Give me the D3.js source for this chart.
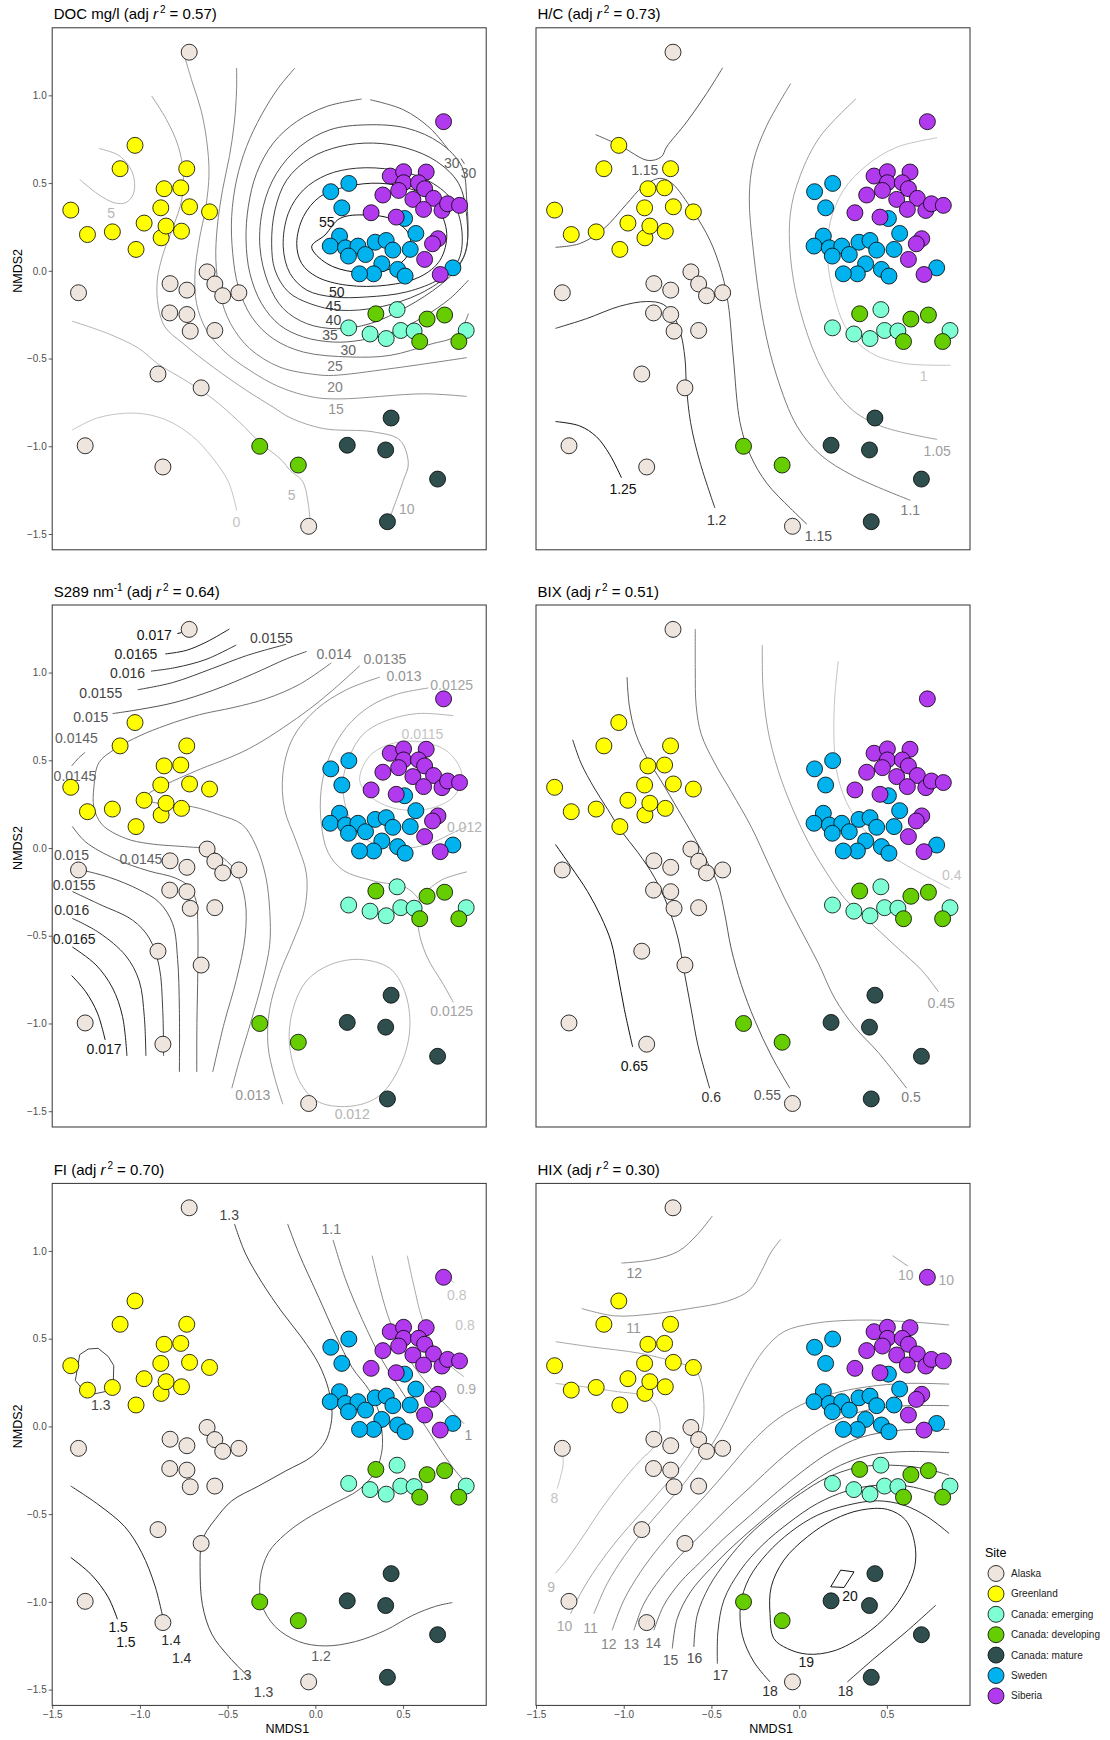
<!DOCTYPE html>
<html>
<head>
<meta charset="utf-8">
<script src="https://cdn.jsdelivr.net/npm/d3@7"></script>
<style>
body { margin: 0; background: #fff; }
text { font-family: "Liberation Sans", Arial, Helvetica, sans-serif; }
</style>
</head>
<body>
<script>
// site names and fills (legend order = draw order)
var sites = ["Alaska", "Greenland", "Canada: emerging", "Canada: developing", "Canada: mature", "Sweden", "Siberia"];
var siteFill = ["#EEE5DE", "#FFFF00", "#7FFFD4", "#66CD00", "#2F4F4F", "#00B2EE", "#B23AEE"];

// NMDS scores [NMDS1, NMDS2] per site
var alaska = [[-0.719,1.246],[-1.350,-0.125],[-1.312,-0.997],[-0.869,-1.118],[-0.897,-0.588],[-0.651,-0.667],[-0.828,-0.073],[-0.732,-0.110],[-0.617,-0.006],[-0.573,-0.075],[-0.528,-0.142],[-0.436,-0.125],[-0.830,-0.240],[-0.732,-0.249],[-0.713,-0.344],[-0.573,-0.340],[-0.038,-1.456]];
var greenland = [[-1.394,0.346],[-1.299,0.207],[-1.157,0.222],[-1.113,0.582],[-1.028,0.715],[-1.022,0.122],[-0.976,0.272],[-0.881,0.359],[-0.862,0.468],[-0.879,0.188],[-0.851,0.255],[-0.767,0.473],[-0.763,0.226],[-0.717,0.365],[-0.733,0.582],[-0.603,0.336]];
var emerging = [[0.190,-0.325],[0.312,-0.360],[0.404,-0.386],[0.466,-0.221],[0.487,-0.340],[0.563,-0.343],[0.860,-0.340]];
var developing = [[0.345,-0.245],[0.637,-0.275],[0.737,-0.252],[0.595,-0.403],[0.818,-0.403],[-0.317,-1.000],[-0.097,-1.107]];
var mature = [[0.432,-0.839],[0.182,-0.994],[0.401,-1.021],[0.697,-1.187],[0.411,-1.430]];
var sweden = [[0.088,0.451],[0.191,0.498],[0.151,0.359],[0.509,0.298],[0.573,0.213],[0.138,0.198],[0.085,0.141],[0.172,0.131],[0.243,0.141],[0.189,0.084],[0.286,0.093],[0.341,0.163],[0.404,0.173],[0.442,0.118],[0.541,0.122],[0.379,0.040],[0.332,-0.017],[0.252,-0.017],[0.469,0.008],[0.512,-0.030],[0.784,0.017]];
var siberia = [[0.731,0.850],[0.427,0.540],[0.503,0.565],[0.632,0.563],[0.503,0.502],[0.588,0.502],[0.475,0.458],[0.623,0.468],[0.385,0.432],[0.556,0.407],[0.674,0.413],[0.617,0.350],[0.722,0.344],[0.754,0.382],[0.822,0.373],[0.318,0.331],[0.461,0.306],[0.699,0.183],[0.668,0.154],[0.623,0.065],[0.712,-0.021]];
var sitePoints = [alaska, greenland, emerging, developing, mature, sweden, siberia];

// panel titles
var titleMain = ["DOC mg/l", "H/C", "S289 nm", "BIX", "FI", "HIX"];
var titleSup = ["", "", "-1", "", "", ""];
var adjR2 = ["0.57", "0.73", "0.64", "0.51", "0.70", "0.30"];

// axis ticks
var xTicks = [-1.5, -1.0, -0.5, 0.0, 0.5];
var yTicks = [-1.5, -1.0, -0.5, 0.0, 0.5, 1.0];

// fitted surfaces: [level, shape (0 open, 1 closed smooth, 2 closed polygon), points]
var docLines = [
  [0,0,[[-1.387,-0.908],[-1.238,-0.837],[-1.029,-0.811],[-0.857,-0.847],[-0.705,-0.939],[-0.590,-1.061],[-0.495,-1.204],[-0.448,-1.367]]],
  [5,0,[[-1.234,0.697],[-1.124,0.660],[-1.057,0.589],[-1.032,0.517],[-1.038,0.436],[-1.080,0.389],[-1.143,0.387],[-1.238,0.436],[-1.343,0.521]]],
  [5,0,[[-1.387,-0.287],[-1.181,-0.358],[-1.010,-0.440],[-0.895,-0.532],[-0.743,-0.623],[-0.590,-0.725],[-0.438,-0.857],[-0.314,-0.980],[-0.190,-1.081],[-0.144,-1.137],[-0.080,-1.190],[-0.059,-1.232],[-0.040,-1.330],[-0.030,-1.420]]],
  [10,0,[[-0.933,0.996],[-0.848,0.861],[-0.781,0.709],[-0.753,0.556],[-0.762,0.404],[-0.810,0.251],[-0.867,0.099],[-0.901,-0.053],[-0.895,-0.206],[-0.857,-0.320],[-0.753,-0.415],[-0.582,-0.549],[-0.392,-0.682],[-0.240,-0.777],[-0.144,-0.837],[0.046,-0.899],[0.331,-0.918],[0.483,-0.966],[0.530,-1.099],[0.502,-1.194],[0.426,-1.403]]],
  [15,0,[[-0.743,1.213],[-0.700,1.070],[-0.652,0.918],[-0.620,0.747],[-0.606,0.556],[-0.624,0.366],[-0.662,0.175],[-0.686,-0.015],[-0.677,-0.187],[-0.620,-0.339],[-0.515,-0.463],[-0.373,-0.568],[-0.202,-0.663],[-0.011,-0.720],[0.141,-0.730],[0.616,-0.701],[0.863,-0.716]]],
  [20,0,[[-0.449,1.156],[-0.449,1.032],[-0.462,0.842],[-0.490,0.651],[-0.529,0.461],[-0.559,0.251],[-0.567,0.061],[-0.544,-0.130],[-0.483,-0.301],[-0.373,-0.444],[-0.202,-0.549],[0.008,-0.592],[0.103,-0.596],[0.426,-0.558],[0.863,-0.495]]],
  [25,0,[[-0.116,1.156],[-0.211,1.042],[-0.306,0.890],[-0.392,0.709],[-0.449,0.518],[-0.477,0.309],[-0.471,0.099],[-0.439,-0.091],[-0.363,-0.263],[-0.240,-0.387],[-0.068,-0.463],[0.198,-0.491],[0.426,-0.482],[0.654,-0.419],[0.806,-0.368],[0.873,-0.244]]],
  [30,0,[[0.873,-0.053],[0.768,-0.158],[0.616,-0.263],[0.445,-0.349],[0.255,-0.396],[0.103,-0.406],[-0.068,-0.377],[-0.202,-0.310],[-0.306,-0.187],[-0.373,-0.015],[-0.395,0.175],[-0.382,0.366],[-0.335,0.556],[-0.240,0.728],[-0.106,0.851],[0.065,0.937],[0.264,0.979]]],
  [30,0,[[0.312,0.975],[0.502,0.918],[0.654,0.813],[0.759,0.690]]],
  [30,0,[[0.830,0.640],[0.850,0.610]]],
  [35,1,[[-0.316,0.137],[-0.297,0.366],[-0.221,0.556],[-0.087,0.709],[0.084,0.804],[0.293,0.832],[0.521,0.813],[0.711,0.728],[0.835,0.594],[0.863,0.404],[0.863,0.137],[0.816,0.023],[0.711,-0.082],[0.521,-0.206],[0.312,-0.301],[0.122,-0.330],[-0.049,-0.301],[-0.183,-0.215],[-0.268,-0.072]]],
  [40,1,[[-0.249,0.156],[-0.230,0.347],[-0.163,0.518],[-0.030,0.642],[0.141,0.709],[0.331,0.728],[0.521,0.699],[0.692,0.623],[0.816,0.499],[0.863,0.309],[0.854,0.099],[0.768,-0.015],[0.597,-0.130],[0.369,-0.206],[0.141,-0.225],[-0.030,-0.187],[-0.154,-0.120],[-0.230,0.004]]],
  [45,1,[[-0.183,0.137],[-0.154,0.328],[-0.068,0.461],[0.065,0.547],[0.236,0.585],[0.445,0.575],[0.635,0.518],[0.778,0.404],[0.835,0.232],[0.816,0.061],[0.711,-0.044],[0.521,-0.120],[0.293,-0.149],[0.103,-0.149],[-0.049,-0.110],[-0.144,-0.015]]],
  [50,1,[[-0.106,0.156],[-0.068,0.309],[0.027,0.423],[0.179,0.480],[0.369,0.499],[0.559,0.461],[0.692,0.366],[0.749,0.213],[0.711,0.061],[0.597,-0.034],[0.407,-0.082],[0.179,-0.082],[0.008,-0.034],[-0.078,0.042]]],
  [55,1,[[-0.021,0.137],[0.055,0.204],[0.141,0.299],[0.293,0.318],[0.445,0.290],[0.540,0.194],[0.521,0.080],[0.407,0.004],[0.217,-0.006],[0.065,0.042]]]
];
var docLabels = [[-0.450,-1.430,0],[-1.164,0.330,5],[-0.135,-1.280,5],[0.521,-1.359,10],[0.118,-0.787,15],[0.112,-0.663,20],[0.112,-0.545,25],[0.188,-0.453,30],[0.084,-0.368,35],[0.103,-0.282,40],[0.103,-0.200,45],[0.122,-0.118,50],[0.065,0.280,55],[0.778,0.617,30],[0.873,0.556,30]];

var hcLines = [
  [1.25,0,[[-1.389,-0.859],[-1.251,-0.884],[-1.156,-0.945],[-1.080,-1.047],[-1.013,-1.179]]],
  [1.2,0,[[-1.389,-0.328],[-1.213,-0.273],[-1.023,-0.202],[-0.870,-0.175],[-0.775,-0.191],[-0.718,-0.253],[-0.676,-0.354],[-0.651,-0.497],[-0.642,-0.660],[-0.619,-0.864],[-0.566,-1.088],[-0.480,-1.352]]],
  [1.15,0,[[-1.160,0.776],[-1.023,0.715],[-0.861,0.629],[-0.785,0.650],[-0.756,0.705],[-0.642,0.847],[-0.528,1.010],[-0.436,1.157]]],
  [1.15,0,[[-1.389,0.134],[-1.251,0.155],[-1.118,0.236],[-0.985,0.379],[-0.890,0.481],[-0.794,0.527],[-0.728,0.501],[-0.604,0.338],[-0.509,0.175],[-0.442,-0.008],[-0.404,-0.191],[-0.375,-0.497],[-0.337,-0.864],[-0.280,-1.047],[-0.185,-1.210],[-0.051,-1.352],[0.044,-1.444]]],
  [1.1,0,[[-0.048,1.067],[-0.185,0.827],[-0.261,0.623],[-0.284,0.420],[-0.261,0.114],[-0.204,-0.293],[-0.128,-0.599],[-0.013,-0.884],[0.120,-1.047],[0.310,-1.169],[0.634,-1.308]]],
  [1.05,0,[[0.324,0.980],[0.120,0.766],[0.006,0.542],[-0.051,0.318],[-0.042,0.012],[0.025,-0.293],[0.139,-0.578],[0.291,-0.782],[0.463,-0.884],[0.787,-0.961]]],
  [1,0,[[0.787,0.758],[0.558,0.705],[0.387,0.603],[0.253,0.460],[0.177,0.277],[0.162,0.073],[0.196,-0.130],[0.272,-0.334],[0.406,-0.466],[0.596,-0.527],[0.863,-0.538]]]
];
var hcLabels = [[-1.004,-1.246,1.25],[-0.470,-1.418,1.2],[-0.880,0.576,1.15],[0.110,-1.509,1.15],[0.634,-1.363,1.1],[0.787,-1.026,1.05],[0.710,-0.599,1]];

var s289Lines = [
  [0.017,0,[[-0.787,1.222],[-0.762,1.228]]],
  [0.0165,0,[[-0.855,1.106],[-0.737,1.126],[-0.623,1.173],[-0.490,1.248]]],
  [0.016,0,[[-0.937,1.008],[-0.794,1.029],[-0.623,1.075],[-0.451,1.157]]],
  [0.0155,0,[[-1.013,0.902],[-0.813,0.943],[-0.585,1.024],[-0.394,1.096],[-0.166,1.161]]],
  [0.015,0,[[-1.156,0.766],[-1.000,0.790],[-0.800,0.830],[-0.580,0.900],[-0.360,0.990],[-0.160,1.080],[-0.050,1.120]]],
  [0.0145,0,[[-1.389,0.468],[-1.347,0.515],[-1.312,0.546]]],
  [0.014,0,[[0.091,1.055],[-0.090,0.933],[-0.280,0.851],[-0.470,0.800],[-0.660,0.760],[-0.850,0.700],[-1.000,0.640],[-1.140,0.565],[-1.234,0.486],[-1.262,0.349],[-1.262,0.231],[-1.215,0.133],[-1.082,0.055],[-0.949,0.025],[-0.721,0.006],[-0.625,-0.004],[-0.530,-0.053],[-0.450,-0.140],[-0.400,-0.300],[-0.400,-0.500],[-0.450,-0.750],[-0.520,-1.000],[-0.585,-1.277]]],
  [0.0135,0,[[0.253,1.039],[0.097,0.898],[-0.074,0.762],[-0.379,0.566],[-0.684,0.438],[-0.851,0.363],[-0.949,0.310],[-0.966,0.281],[-0.930,0.262],[-0.850,0.250],[-0.700,0.235],[-0.550,0.190],[-0.416,0.133],[-0.340,0.016],[-0.283,-0.161],[-0.260,-0.357],[-0.260,-0.550],[-0.300,-0.750],[-0.370,-1.000],[-0.430,-1.200],[-0.476,-1.369]]],
  [0.0145,0,[[-1.386,0.124],[-1.310,0.035],[-1.139,-0.063],[-0.949,-0.131],[-0.800,-0.170],[-0.720,-0.220],[-0.680,-0.300],[-0.670,-0.450],[-0.670,-0.700],[-0.675,-1.000],[-0.676,-1.277]]],
  [0.015,0,[[-1.347,-0.122],[-1.175,-0.167],[-1.004,-0.238],[-0.890,-0.310],[-0.813,-0.432],[-0.785,-0.635],[-0.775,-0.921],[-0.775,-1.277]]],
  [0.0155,0,[[-1.385,-0.248],[-1.232,-0.320],[-1.042,-0.411],[-0.947,-0.513],[-0.890,-0.676],[-0.870,-0.921],[-0.865,-1.185]]],
  [0.016,0,[[-1.385,-0.401],[-1.232,-0.483],[-1.080,-0.615],[-1.004,-0.758],[-0.975,-0.961],[-0.966,-1.185]]],
  [0.0165,0,[[-1.385,-0.564],[-1.251,-0.666],[-1.156,-0.798],[-1.099,-0.961],[-1.074,-1.185]]],
  [0.017,0,[[-1.389,-0.727],[-1.309,-0.819],[-1.242,-0.941],[-1.198,-1.094]]],
  [0.013,0,[[0.368,0.974],[0.177,0.902],[0.006,0.790],[-0.128,0.627],[-0.185,0.424],[-0.175,0.220],[-0.109,0.037],[-0.051,-0.147],[-0.061,-0.350],[-0.128,-0.534],[-0.204,-0.717],[-0.261,-0.921],[-0.270,-1.124],[-0.232,-1.308],[-0.185,-1.460]]],
  [0.0125,0,[[0.644,0.912],[0.463,0.876],[0.310,0.807],[0.177,0.688],[0.082,0.525],[0.034,0.342],[0.034,0.138],[0.072,-0.024],[0.158,-0.126],[0.330,-0.187],[0.520,-0.228],[0.596,-0.310],[0.587,-0.452],[0.634,-0.615],[0.730,-0.778],[0.787,-0.880]]],
  [0.0125,0,[[0.863,-0.136],[0.730,-0.177],[0.653,-0.228]]],
  [0.012,0,[[0.787,0.754],[0.577,0.766],[0.387,0.719],[0.272,0.648],[0.196,0.525],[0.158,0.383],[0.177,0.220],[0.253,0.077],[0.387,0.006],[0.539,0.000],[0.672,0.033],[0.787,0.088],[0.863,0.122]]],
  [0.0115,1,[[0.253,0.383],[0.310,0.525],[0.444,0.597],[0.615,0.603],[0.758,0.546],[0.834,0.424],[0.796,0.301],[0.672,0.230],[0.482,0.220],[0.330,0.281]]],
  [0.012,1,[[-0.147,-1.124],[-0.128,-0.921],[-0.051,-0.758],[0.082,-0.666],[0.253,-0.635],[0.425,-0.686],[0.510,-0.819],[0.539,-1.022],[0.491,-1.226],[0.368,-1.409],[0.215,-1.470],[0.025,-1.450],[-0.080,-1.348]]]
];
var s289Labels = [[-0.918,1.214,0.017],[-1.023,1.106,0.0165],[-1.070,1.000,0.016],[-1.223,0.886,0.0155],[-0.251,1.198,0.0155],[-1.280,0.749,0.015],[-1.362,0.627,0.0145],[-1.370,0.413,0.0145],[-1.390,-0.041,0.015],[-0.994,-0.061,0.0145],[-1.375,-0.212,0.0155],[-1.389,-0.352,0.016],[-1.375,-0.519,0.0165],[-1.204,-1.145,0.017],[0.107,1.106,0.014],[0.396,1.079,0.0135],[0.505,0.980,0.013],[0.777,0.929,0.0125],[0.611,0.648,0.0115],[0.850,0.122,0.012],[0.777,-0.931,0.0125],[0.210,-1.517,0.012],[-0.356,-1.409,0.013]];

var bixLines = [
  [0.65,0,[[-1.389,0.020],[-1.301,-0.106],[-1.206,-0.248],[-1.130,-0.391],[-1.072,-0.534],[-1.034,-0.717],[-0.996,-0.921],[-0.949,-1.134]]],
  [0.6,0,[[-1.291,0.617],[-1.244,0.485],[-1.168,0.342],[-1.091,0.220],[-1.015,0.098],[-0.920,-0.024],[-0.825,-0.167],[-0.749,-0.330],[-0.691,-0.513],[-0.653,-0.717],[-0.615,-0.921],[-0.577,-1.124],[-0.510,-1.369]]],
  [0.55,0,[[-0.981,0.974],[-0.968,0.811],[-0.930,0.648],[-0.863,0.505],[-0.787,0.383],[-0.691,0.220],[-0.596,0.057],[-0.520,-0.086],[-0.463,-0.208],[-0.425,-0.371],[-0.387,-0.574],[-0.330,-0.778],[-0.253,-0.982],[-0.158,-1.185],[-0.053,-1.369]]],
  [0.5,0,[[-0.592,1.248],[-0.592,1.014],[-0.587,0.811],[-0.558,0.648],[-0.482,0.485],[-0.387,0.322],[-0.272,0.118],[-0.177,-0.086],[-0.082,-0.289],[0.013,-0.473],[0.109,-0.656],[0.204,-0.859],[0.318,-1.022],[0.451,-1.165],[0.613,-1.369]]],
  [0.45,0,[[-0.210,1.157],[-0.206,0.912],[-0.177,0.668],[-0.120,0.444],[-0.044,0.240],[0.051,0.037],[0.147,-0.126],[0.261,-0.289],[0.413,-0.432],[0.566,-0.574],[0.699,-0.697],[0.794,-0.819]]],
  [0.4,0,[[0.223,1.065],[0.204,0.872],[0.198,0.648],[0.213,0.444],[0.270,0.261],[0.375,0.098],[0.528,-0.045],[0.699,-0.147],[0.861,-0.232]]]
];
var bixLabels = [[-0.939,-1.242,0.65],[-0.501,-1.420,0.6],[-0.181,-1.409,0.55],[0.638,-1.420,0.5],[0.810,-0.884,0.45],[0.870,-0.153,0.4]];

var fiLines = [
  [1.5,0,[[-1.394,-0.747],[-1.276,-0.846],[-1.181,-0.973],[-1.128,-1.099]]],
  [1.4,0,[[-1.394,-0.340],[-1.238,-0.445],[-1.086,-0.572],[-0.990,-0.719],[-0.914,-0.909],[-0.867,-1.099]]],
  [1.3,2,[[-1.368,0.262],[-1.343,0.409],[-1.295,0.441],[-1.238,0.445],[-1.181,0.399],[-1.149,0.346],[-1.152,0.251],[-1.200,0.198],[-1.267,0.184],[-1.333,0.219]]],
  [1.3,0,[[-0.461,1.154],[-0.400,0.989],[-0.305,0.821],[-0.190,0.652],[-0.076,0.504],[0.019,0.357],[0.076,0.209],[0.095,0.082],[0.086,-0.002],[0.057,-0.086],[-0.019,-0.171],[-0.171,-0.255],[-0.324,-0.340],[-0.476,-0.424],[-0.571,-0.530],[-0.629,-0.614],[-0.651,-0.677],[-0.657,-0.804],[-0.644,-1.015],[-0.590,-1.184],[-0.495,-1.310],[-0.371,-1.437]]],
  [1.2,0,[[-0.158,1.154],[-0.095,0.989],[0.019,0.736],[0.114,0.525],[0.210,0.335],[0.305,0.209],[0.362,0.082],[0.377,-0.002],[0.381,-0.129],[0.343,-0.255],[0.248,-0.361],[0.095,-0.445],[-0.057,-0.530],[-0.171,-0.614],[-0.267,-0.719],[-0.314,-0.867],[-0.305,-1.015],[-0.229,-1.141],[-0.095,-1.226],[0.057,-1.251],[0.229,-1.226],[0.400,-1.162],[0.552,-1.078],[0.686,-1.025],[0.781,-1.004]]],
  [1.1,0,[[0.101,1.063],[0.171,0.842],[0.267,0.610],[0.381,0.378],[0.514,0.167],[0.629,-0.002],[0.724,-0.150],[0.800,-0.255],[0.857,-0.319]]],
  [1,0,[[0.324,0.973],[0.371,0.778],[0.429,0.589],[0.524,0.399],[0.648,0.230],[0.762,0.103],[0.848,0.015]]],
  [0.9,0,[[0.524,0.973],[0.562,0.800],[0.610,0.610],[0.686,0.441],[0.781,0.335],[0.848,0.283]]],
  [0.8,0,[[0.770,0.835],[0.792,0.818]]]
];
var fiLabels = [[-1.124,-1.141,1.5],[-1.080,-1.226,1.5],[-0.823,-1.219,1.4],[-0.762,-1.321,1.4],[-1.223,0.124,1.3],[-0.491,1.205,1.3],[-0.419,-1.416,1.3],[-0.295,-1.511,1.3],[0.032,-1.310,1.2],[0.091,1.127,1.1],[0.872,-0.049,1],[0.861,0.213,0.9],[0.806,0.747,0.8],[0.853,0.578,0.8]];

var hixLines = [
  [12,0,[[-1.013,0.931],[-0.837,0.950],[-0.687,0.999],[-0.580,1.094],[-0.495,1.199]]],
  [11,0,[[-1.240,0.672],[-1.051,0.630],[-0.837,0.641],[-0.623,0.672],[-0.409,0.714],[-0.281,0.778],[-0.216,0.883],[-0.163,0.988],[-0.105,1.066]]],
  [10,0,[[0.533,0.973],[0.619,0.914]]],
  [10,0,[[-1.389,0.483],[-1.189,0.454],[-0.904,0.416],[-0.676,0.359],[-0.600,0.331],[-0.562,0.264],[-0.543,0.131],[-0.552,-0.002],[-0.600,-0.116],[-0.676,-0.230],[-0.771,-0.344],[-0.904,-0.496],[-1.037,-0.648],[-1.151,-0.800],[-1.246,-0.952],[-1.303,-1.067]]],
  [9,0,[[-1.389,0.245],[-1.227,0.226],[-1.037,0.198],[-0.904,0.179],[-0.828,0.131],[-0.799,0.055],[-0.794,-0.021],[-0.828,-0.116],[-0.904,-0.192],[-1.018,-0.325],[-1.132,-0.477],[-1.246,-0.648],[-1.341,-0.781],[-1.389,-0.838]]],
  [8,0,[[-1.351,-0.135],[-1.345,-0.211],[-1.360,-0.287],[-1.379,-0.354]]],
  [11,0,[[-1.170,-1.067],[-1.094,-0.895],[-0.999,-0.743],[-0.885,-0.591],[-0.771,-0.458],[-0.657,-0.325],[-0.543,-0.173],[-0.448,-0.021],[-0.372,0.131],[-0.296,0.283],[-0.201,0.435],[-0.087,0.540],[0.085,0.587],[0.332,0.606],[0.617,0.597],[0.855,0.578]]],
  [12,0,[[-1.066,-1.162],[-0.999,-0.990],[-0.904,-0.829],[-0.790,-0.677],[-0.666,-0.534],[-0.533,-0.392],[-0.400,-0.240],[-0.277,-0.097],[-0.144,0.027],[0.009,0.122],[0.180,0.184],[0.389,0.226],[0.617,0.245],[0.855,0.241]]],
  [13,0,[[-0.942,-1.162],[-0.885,-1.010],[-0.790,-0.867],[-0.676,-0.734],[-0.543,-0.601],[-0.410,-0.468],[-0.267,-0.335],[-0.125,-0.202],[0.028,-0.078],[0.180,0.017],[0.351,0.084],[0.579,0.116],[0.855,0.118]]],
  [14,0,[[-0.828,-1.162],[-0.771,-1.019],[-0.676,-0.886],[-0.562,-0.772],[-0.429,-0.639],[-0.277,-0.506],[-0.125,-0.373],[0.028,-0.249],[0.180,-0.144],[0.351,-0.063],[0.579,-0.021],[0.855,-0.017]]],
  [15,0,[[-0.723,-1.266],[-0.695,-1.095],[-0.619,-0.943],[-0.505,-0.810],[-0.371,-0.677],[-0.220,-0.544],[-0.067,-0.420],[0.085,-0.310],[0.237,-0.221],[0.408,-0.163],[0.617,-0.143],[0.855,-0.150]]],
  [16,0,[[-0.600,-1.257],[-0.581,-1.076],[-0.514,-0.914],[-0.410,-0.762],[-0.286,-0.620],[-0.144,-0.496],[0.009,-0.382],[0.161,-0.291],[0.332,-0.234],[0.522,-0.221],[0.712,-0.240],[0.855,-0.278]]],
  [17,0,[[-0.466,-1.352],[-0.463,-1.171],[-0.429,-0.990],[-0.334,-0.819],[-0.210,-0.677],[-0.058,-0.549],[0.104,-0.439],[0.275,-0.367],[0.446,-0.335],[0.617,-0.340],[0.750,-0.373],[0.855,-0.411]]],
  [18,0,[[-0.166,-1.456],[-0.258,-1.342],[-0.324,-1.190],[-0.334,-1.019],[-0.286,-0.867],[-0.182,-0.724],[-0.048,-0.601],[0.104,-0.506],[0.275,-0.449],[0.446,-0.424],[0.598,-0.449],[0.731,-0.515],[0.855,-0.610]]],
  [19,1,[[-0.144,-1.209],[-0.166,-1.067],[-0.159,-0.914],[-0.087,-0.762],[0.047,-0.629],[0.199,-0.530],[0.351,-0.477],[0.503,-0.473],[0.607,-0.534],[0.659,-0.667],[0.659,-0.800],[0.607,-0.933],[0.512,-1.067],[0.370,-1.190],[0.199,-1.279],[0.047,-1.298],[-0.067,-1.266]]],
  [18,0,[[0.275,-1.456],[0.427,-1.323],[0.598,-1.181],[0.779,-1.019]]],
  [20,2,[[0.180,-0.914],[0.237,-0.819],[0.313,-0.829],[0.256,-0.918]]]
];
var hixLabels = [[-0.940,0.872,12],[-0.944,0.563,11],[0.608,0.862,10],[0.839,0.834,10],[-1.395,-0.405,8],[-1.413,-0.914,9],[-1.337,-1.139,10],[-1.189,-1.146,11],[-1.085,-1.238,12],[-0.957,-1.238,13],[-0.832,-1.234,14],[-0.733,-1.333,15],[-0.596,-1.319,16],[-0.448,-1.414,17],[-0.166,-1.508,18],[0.041,-1.344,19],[0.265,-1.508,18],[0.290,-0.966,20]];

var panelLines = [docLines, hcLines, s289Lines, bixLines, fiLines, hixLines];
var panelLabels = [docLabels, hcLabels, s289Labels, bixLabels, fiLabels, hixLabels];

//layout
var width = 1110, height = 1740;
var panelW = 434, panelH = 522;
var colX = [52.2, 536], rowY = [27.8, 605, 1183.4];

var svg = d3.select("body").append("svg")
    .attr("width", width)
    .attr("height", height);

var x = d3.scaleLinear().domain([-1.5, 0.974]).range([0, panelW]);
var y = d3.scaleLinear().domain([-1.59, 1.385]).range([panelH, 0]);

//path generators: open, closed smooth, closed polygon
var curves = [d3.curveCatmullRom.alpha(0.5), d3.curveCatmullRomClosed.alpha(0.5), d3.curveLinearClosed];
var lineGen = curves.map(function(c){
    return d3.line().x(function(d){ return x(d[0]); }).y(function(d){ return y(d[1]); }).curve(c);
});

var tickFmt = d3.format(".1f");

for (var p = 0; p < 6; p++){
    var col = p % 2, row = Math.floor(p / 2);
    var g = svg.append("g")
        .attr("transform", "translate(" + colX[col] + "," + rowY[row] + ")");

    //grey ramp by contour level
    var grey = d3.scaleLinear()
        .domain(d3.extent(panelLines[p], function(d){ return d[0]; }))
        .range(["#c4c4c4", "#111111"]);

    g.selectAll(".contour")
        .data(panelLines[p])
        .enter()
        .append("path")
        .attr("class", "contour")
        .attr("d", function(d){ return lineGen[d[1]](d[2]); })
        .attr("fill", "none")
        .attr("stroke", function(d){ return grey(d[0]); })
        .attr("stroke-width", 1);

    g.selectAll(".clabel")
        .data(panelLabels[p])
        .enter()
        .append("text")
        .attr("class", "clabel")
        .attr("x", function(d){ return x(d[0]); })
        .attr("y", function(d){ return y(d[1]); })
        .attr("dy", "0.36em")
        .attr("text-anchor", "middle")
        .attr("font-size", "14px")
        .attr("fill", function(d){ return grey(d[2]); })
        .text(function(d){ return String(d[2]); });

    //site points
    sitePoints.forEach(function(pts, i){
        g.selectAll(".pt" + i)
            .data(pts)
            .enter()
            .append("circle")
            .attr("class", "pt" + i)
            .attr("cx", function(d){ return x(d[0]); })
            .attr("cy", function(d){ return y(d[1]); })
            .attr("r", 8)
            .attr("fill", siteFill[i])
            .attr("stroke", "#000")
            .attr("stroke-width", 0.8);
    });

    //panel frame
    g.append("rect")
        .attr("width", panelW)
        .attr("height", panelH)
        .attr("fill", "none")
        .attr("stroke", "#333")
        .attr("stroke-width", 1);

    if (col == 0){
        var ya = g.append("g")
            .call(d3.axisLeft(y).tickValues(yTicks).tickFormat(tickFmt).tickSize(3.5).tickPadding(2));
        styleAxis(ya);
        svg.append("text")
            .attr("transform", "translate(21.5," + (rowY[row] + y(0)) + ") rotate(-90)")
            .attr("text-anchor", "middle")
            .attr("font-size", "12.5px")
            .attr("fill", "#000")
            .text("NMDS2");
    }
    if (row == 2){
        var xa = g.append("g")
            .attr("transform", "translate(0," + panelH + ")")
            .call(d3.axisBottom(x).tickValues(xTicks).tickFormat(tickFmt).tickSize(3.5).tickPadding(2));
        styleAxis(xa);
        svg.append("text")
            .attr("x", colX[col] + x(-0.16))
            .attr("y", 1733)
            .attr("text-anchor", "middle")
            .attr("font-size", "12.5px")
            .attr("fill", "#000")
            .text("NMDS1");
    }

    //title with italic r and superscripts
    var t = svg.append("text")
        .attr("x", colX[col] + 1.5)
        .attr("y", rowY[row] - 8.5)
        .attr("font-size", "15px")
        .attr("fill", "#000");
    t.append("tspan").text(titleMain[p]);
    if (titleSup[p]){
        t.append("tspan").attr("font-size", "10px").attr("dy", -6).text(titleSup[p]);
        t.append("tspan").attr("dy", 6).text(" (adj ");
    } else {
        t.append("tspan").text(" (adj ");
    }
    t.append("tspan").attr("font-style", "italic").text("r");
    t.append("tspan").attr("font-size", "10px").attr("dy", -6).attr("dx", 2).text("2");
    t.append("tspan").attr("dy", 6).text(" = " + adjR2[p] + ")");
}

function styleAxis(a){
    a.select(".domain").remove();
    a.selectAll(".tick line").attr("stroke", "#333").attr("stroke-width", 0.8);
    a.selectAll(".tick text")
        .attr("fill", "#4d4d4d")
        .attr("font-size", "10px")
        .attr("font-family", "'Liberation Sans', Arial, Helvetica, sans-serif");
}

//legend
var legend = svg.append("g");
legend.append("text")
    .attr("x", 985)
    .attr("y", 1557)
    .attr("font-size", "12.5px")
    .attr("fill", "#000")
    .text("Site");
var keys = legend.selectAll(".key")
    .data(sites)
    .enter()
    .append("g")
    .attr("class", "key")
    .attr("transform", function(d, i){ return "translate(996," + (1573.5 + i * 20.4) + ")"; });
keys.append("circle")
    .attr("r", 8)
    .attr("fill", function(d, i){ return siteFill[i]; })
    .attr("stroke", "#000")
    .attr("stroke-width", 0.8);
keys.append("text")
    .attr("x", 15)
    .attr("dy", "0.35em")
    .attr("font-size", "10px")
    .attr("fill", "#1a1a1a")
    .text(function(d){ return d; });
</script>
</body>
</html>
